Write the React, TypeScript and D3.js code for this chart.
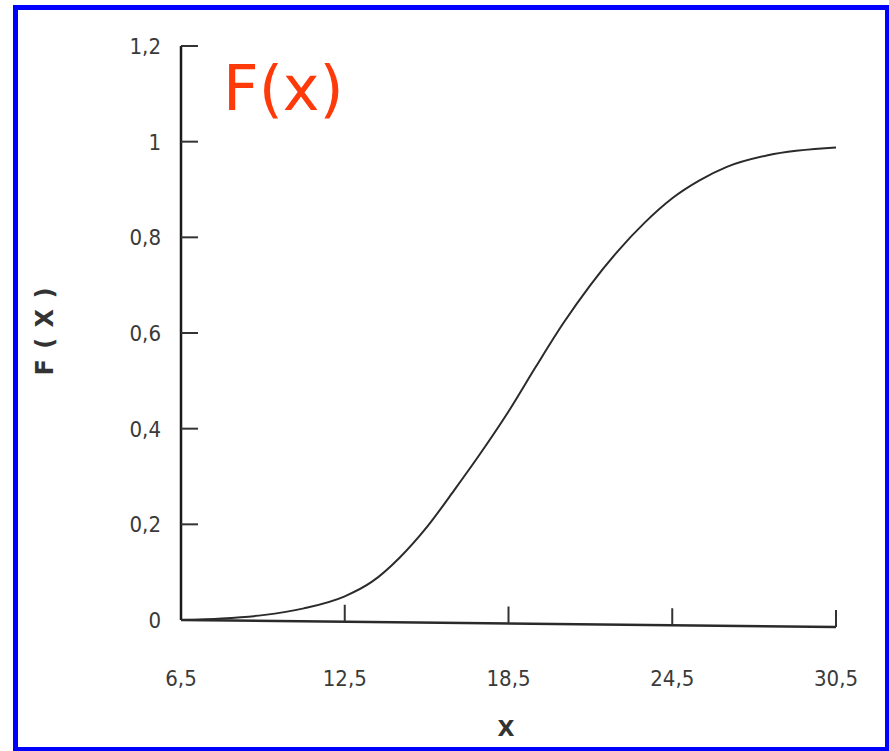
import React from "react";
import * as d3 from "d3";

const xTicks = [6.5, 12.5, 18.5, 24.5, 30.5];
const xTickLabels = ["6,5", "12,5", "18,5", "24,5", "30,5"];
const yTicks = [0, 0.2, 0.4, 0.6, 0.8, 1, 1.2];
const yTickLabels = ["0", "0,2", "0,4", "0,6", "0,8", "1", "1,2"];

const xValues = [6.5, 8, 9.5, 11, 12.5, 13.5, 14.5, 15.5, 16.5, 17.5, 18.5, 19.5, 20.5, 21.5, 22.5, 23.5, 24.5, 25.5, 26.5, 28, 30.5];
const fValues = [0, 0.004, 0.012, 0.027, 0.053, 0.084, 0.134, 0.198, 0.275, 0.355, 0.44, 0.533, 0.623, 0.703, 0.773, 0.833, 0.883, 0.92, 0.948, 0.972, 0.988];

const W = 889;
const H = 751;

export default function App() {
  const x = d3.scaleLinear().domain([6.5, 30.5]).range([181, 836]);
  const y = d3.scaleLinear().domain([0, 1.2]).range([620, 46]);
  // slight slant of the x axis baseline (as in the scanned original)
  const slant = d3.scaleLinear().domain([6.5, 30.5]).range([0, 7]);

  const pts = xValues.map((v, i) => [v, fValues[i]] as [number, number]);
  const line = d3
    .line<[number, number]>()
    .x((d) => x(d[0]))
    .y((d) => y(d[1]) + slant(d[0]) * (1 - d[1]))
    .curve(d3.curveMonotoneX);

  const tickFont = "'DejaVu Sans Condensed', 'DejaVu Sans', sans-serif";

  return (
    <svg
      width={W}
      height={H}
      viewBox={`0 0 ${W} ${H}`}
      style={{ position: "absolute", left: 0, top: 0, background: "#fff" }}
    >
      <rect x={0} y={0} width={W} height={H} fill="#fff" />
      <rect x={15.5} y={7.5} width={872} height={742} fill="none" stroke="#0000ff" strokeWidth={5} />

      {/* y axis */}
      <line x1={x(6.5)} x2={x(6.5)} y1={y(1.2)} y2={y(0)} stroke="#1a1a1a" strokeWidth={2.5} />
      {yTicks.map((t, i) => (
        <g key={"y" + i}>
          {t > 0 && (
            <line x1={x(6.5)} x2={x(6.5) + 17} y1={y(t)} y2={y(t)} stroke="#333" strokeWidth={2} />
          )}
          <text
            x={x(6.5) - 20}
            y={y(t) + 8}
            textAnchor="end"
            fontFamily={tickFont}
            fontStretch="condensed"
            fontSize={22}
            fill="#3a3a3a"
          >
            {yTickLabels[i]}
          </text>
        </g>
      ))}

      {/* x axis (slightly slanted) */}
      <line
        x1={x(6.5)}
        x2={x(30.5)}
        y1={y(0) + slant(6.5)}
        y2={y(0) + slant(30.5)}
        stroke="#2a2a2a"
        strokeWidth={2.5}
      />
      {xTicks.map((t, i) => (
        <g key={"x" + i}>
          {t > 6.5 && (
            <line
              x1={x(t)}
              x2={x(t)}
              y1={y(0) + slant(t)}
              y2={y(0) + slant(t) - 17}
              stroke="#333"
              strokeWidth={2}
            />
          )}
          <text
            x={x(t)}
            y={686}
            textAnchor="middle"
            fontFamily={tickFont}
            fontStretch="condensed"
            fontSize={22}
            fill="#3a3a3a"
          >
            {xTickLabels[i]}
          </text>
        </g>
      ))}

      {/* curve */}
      <path d={line(pts) || ""} fill="none" stroke="#2b2b2b" strokeWidth={2} />

      {/* axis titles */}
      <text
        x={506}
        y={736}
        textAnchor="middle"
        fontFamily="'DejaVu Sans', sans-serif"
        fontWeight="bold"
        fontSize={22}
        fill="#333"
      >
        X
      </text>
      <text
        transform="translate(53,331) rotate(-90)"
        textAnchor="middle"
        fontFamily="'DejaVu Sans', sans-serif"
        fontWeight="bold"
        fontSize={24}
        letterSpacing={1}
        fill="#333"
      >
        F ( X )
      </text>

      {/* red label */}
      <text
        x={223}
        y={110}
        fontFamily="'DejaVu Sans', sans-serif"
        fontSize={62}
        fill="#ff3a0a"
      >
        F(x)
      </text>
    </svg>
  );
}
